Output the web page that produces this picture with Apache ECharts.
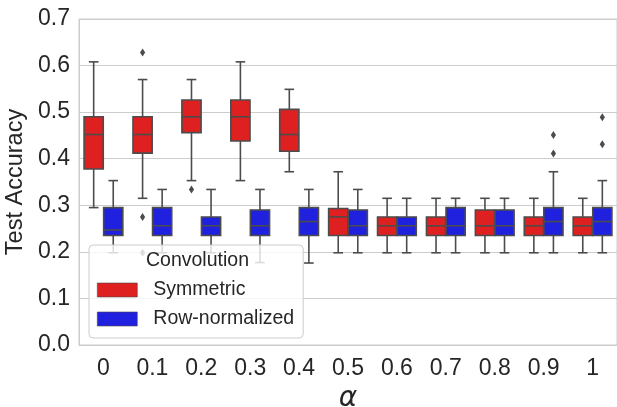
<!DOCTYPE html>
<html>
<head>
<meta charset="utf-8">
<script src="https://cdn.jsdelivr.net/npm/echarts@6/dist/echarts.min.js"></script>
<style>
  html, body { margin: 0; padding: 0; background: #fff; }
  #chart { width: 617px; height: 407px; }
</style>
</head>
<body>
<div id="chart"></div>
<script>
  // alpha values on the x axis
  var alphaLabels = ['0', '0.1', '0.2', '0.3', '0.4', '0.5', '0.6', '0.7', '0.8', '0.9', '1'];
  var yTicks = [0, 0.1, 0.2, 0.3, 0.4, 0.5, 0.6, 0.7];

  // Symmetric convolution: whisker low, Q1, median, Q3, whisker high
  var symLow  = [0.295, 0.315, 0.353, 0.353, 0.372, 0.198, 0.198, 0.198, 0.198, 0.198, 0.198];
  var symQ1   = [0.378, 0.412, 0.456, 0.438, 0.416, 0.235, 0.235, 0.235, 0.235, 0.235, 0.235];
  var symMed  = [0.452, 0.452, 0.490, 0.490, 0.452, 0.275, 0.256, 0.256, 0.256, 0.256, 0.256];
  var symQ3   = [0.490, 0.490, 0.526, 0.526, 0.506, 0.293, 0.275, 0.275, 0.290, 0.275, 0.275];
  var symHigh = [0.608, 0.570, 0.570, 0.608, 0.549, 0.372, 0.315, 0.315, 0.315, 0.315, 0.315];
  // outliers [alpha index, value]
  var symOut  = [[1, 0.628], [1, 0.275], [1, 0.198], [2, 0.334]];

  // Row-normalized convolution
  var rowLow  = [0.198, 0.198, 0.198, 0.177, 0.176, 0.198, 0.198, 0.198, 0.198, 0.198, 0.198];
  var rowQ1   = [0.235, 0.235, 0.235, 0.235, 0.235, 0.235, 0.235, 0.235, 0.235, 0.235, 0.235];
  var rowMed  = [0.247, 0.256, 0.256, 0.256, 0.265, 0.256, 0.256, 0.256, 0.256, 0.265, 0.265];
  var rowQ3   = [0.295, 0.295, 0.275, 0.290, 0.295, 0.290, 0.275, 0.295, 0.290, 0.295, 0.295];
  var rowHigh = [0.353, 0.334, 0.334, 0.334, 0.334, 0.334, 0.315, 0.315, 0.315, 0.372, 0.353];
  var rowOut  = [[9, 0.451], [9, 0.411], [10, 0.489], [10, 0.431]];

  var red = '#df2020';
  var blue = '#2020df';
  var edge = '#4c4c4c';
  var txt = '#262626';
  var font = 'Liberation Sans, Arial, sans-serif';

  function boxData(lo, q1, med, q3, hi) {
    return lo.map(function (v, i) { return [i, v, q1[i], med[i], q3[i], hi[i]]; });
  }

  // seaborn style box: width 0.392 of band, caps half the box width
  function boxRenderer(side) {
    return function (params, api) {
      var i = api.value(0);
      var band = params.coordSys.width / alphaLabels.length;
      var cx = api.coord([i, 0])[0] + side * band * 0.2;
      var hw = band * 0.392 / 2;
      var cw = hw / 2;
      var yLo = api.coord([i, api.value(1)])[1];
      var yQ1 = api.coord([i, api.value(2)])[1];
      var yMd = api.coord([i, api.value(3)])[1];
      var yQ3 = api.coord([i, api.value(4)])[1];
      var yHi = api.coord([i, api.value(5)])[1];
      var ls = { stroke: edge, lineWidth: 1.6 };
      return {
        type: 'group',
        children: [
          { type: 'line', shape: { x1: cx, y1: yLo, x2: cx, y2: yQ1 }, style: ls },
          { type: 'line', shape: { x1: cx, y1: yQ3, x2: cx, y2: yHi }, style: ls },
          { type: 'line', shape: { x1: cx - cw, y1: yLo, x2: cx + cw, y2: yLo }, style: ls },
          { type: 'line', shape: { x1: cx - cw, y1: yHi, x2: cx + cw, y2: yHi }, style: ls },
          { type: 'rect', shape: { x: cx - hw, y: yQ3, width: hw * 2, height: yQ1 - yQ3 },
            style: { fill: api.visual('color'), stroke: edge, lineWidth: 1.6 } },
          { type: 'line', shape: { x1: cx - hw, y1: yMd, x2: cx + hw, y2: yMd }, style: ls }
        ]
      };
    };
  }

  function outRenderer(side) {
    return function (params, api) {
      var i = api.value(0);
      var band = params.coordSys.width / alphaLabels.length;
      var p = api.coord([i, api.value(1)]);
      var cx = p[0] + side * band * 0.2;
      var y = p[1];
      return {
        type: 'polygon',
        shape: { points: [[cx, y - 4], [cx + 2.6, y], [cx, y + 4], [cx - 2.6, y]] },
        style: { fill: edge }
      };
    };
  }

  var chart = echarts.init(document.getElementById('chart'));
  chart.setOption({
    animation: false,
    backgroundColor: '#fff',
    grid: { left: 79, right: 0, top: 19, bottom: 62, show: true, borderColor: '#cccccc', borderWidth: 1,
      outerBoundsMode: 'none', containLabel: false },
    xAxis: {
      type: 'category',
      data: alphaLabels,
      boundaryGap: true,
      name: 'α',
      nameLocation: 'middle',
      nameGap: 26,
      nameTextStyle: { fontSize: 28, fontStyle: 'italic', fontFamily: 'DejaVu Sans', color: txt },
      axisLine: { lineStyle: { color: '#cccccc', width: 1 } },
      axisTick: { show: false },
      axisLabel: { fontSize: 23, color: txt, fontFamily: font, margin: 12 },
      splitLine: { show: false }
    },
    yAxis: {
      type: 'value',
      min: yTicks[0],
      max: yTicks[yTicks.length - 1],
      interval: 0.1,
      name: 'Test Accuracy',
      nameLocation: 'middle',
      nameGap: 51,
      nameTextStyle: { fontSize: 23.5, color: txt, fontFamily: font },
      axisLine: { show: true, lineStyle: { color: '#cccccc', width: 1 } },
      axisTick: { show: false },
      axisLabel: { fontSize: 23, color: txt, fontFamily: font, margin: 9,
        formatter: function (v) { return v.toFixed(1); } },
      splitLine: { lineStyle: { color: '#cccccc', width: 1 } }
    },
    legend: {
      orient: 'vertical',
      left: 89,
      top: 245,
      data: ['Symmetric', 'Row-normalized'],
      icon: 'rect',
      itemWidth: 40,
      itemHeight: 14,
      itemGap: 9,
      padding: [35, 9, 9, 8],
      backgroundColor: 'rgba(255,255,255,0.8)',
      borderColor: '#cccccc',
      borderWidth: 1,
      borderRadius: 4,
      itemStyle: { borderColor: edge, borderWidth: 0.6 },
      textStyle: { fontSize: 19.5, color: txt, fontFamily: font, lineHeight: 14, padding: [0, 0, 0, 11] }
    },
    graphic: [{
      type: 'text',
      left: 146,
      top: 251,
      z: 100,
      style: { text: 'Convolution', fontSize: 19.5, fill: txt, fontFamily: font }
    }],
    series: [
      {
        name: 'Symmetric',
        type: 'custom',
        itemStyle: { color: red },
        renderItem: boxRenderer(-1),
        encode: { x: 0, y: [1, 2, 3, 4, 5] },
        data: boxData(symLow, symQ1, symMed, symQ3, symHigh)
      },
      {
        name: 'Row-normalized',
        type: 'custom',
        itemStyle: { color: blue },
        renderItem: boxRenderer(1),
        encode: { x: 0, y: [1, 2, 3, 4, 5] },
        data: boxData(rowLow, rowQ1, rowMed, rowQ3, rowHigh)
      },
      {
        name: 'Symmetric outliers',
        type: 'custom',
        renderItem: outRenderer(-1),
        encode: { x: 0, y: 1 },
        data: symOut
      },
      {
        name: 'Row-normalized outliers',
        type: 'custom',
        renderItem: outRenderer(1),
        encode: { x: 0, y: 1 },
        data: rowOut
      }
    ]
  });
</script>
</body>
</html>
